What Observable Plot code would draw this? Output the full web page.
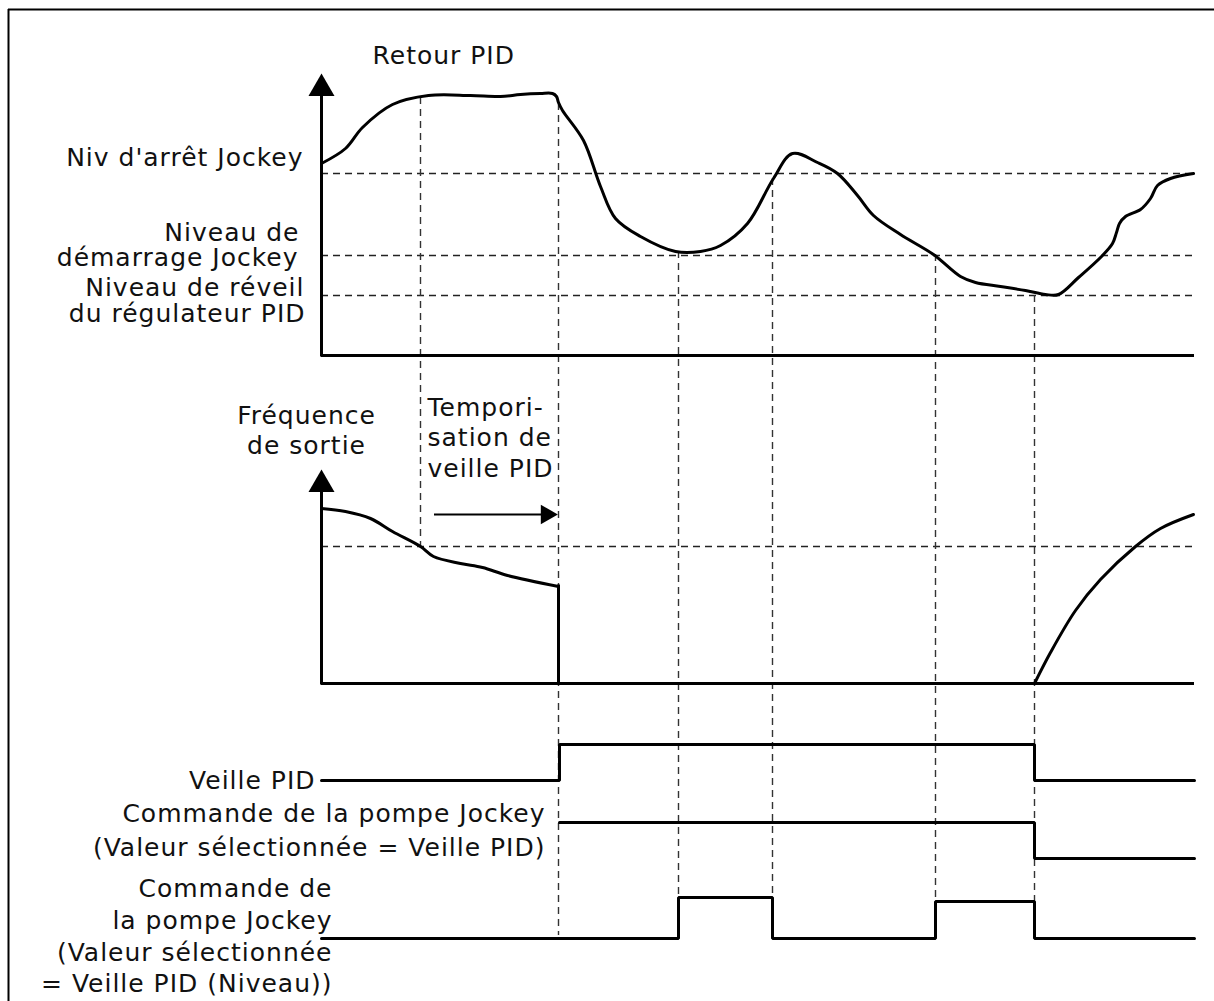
<!DOCTYPE html>
<html>
<head>
<meta charset="utf-8">
<script src="https://cdn.jsdelivr.net/npm/d3@7"></script>
<script src="https://cdn.jsdelivr.net/npm/@observablehq/plot@0.6"></script>
<style>
  html, body { margin: 0; padding: 0; background: #fff; }
  #chart svg { display: block; overflow: visible; }
  #chart svg text { letter-spacing: 1px; }
</style>
</head>
<body>
<div id="chart"></div>
<script>
// ---------- DATA (time t, signal level) ----------
// Retour PID (feedback) samples
const retourPID = [
  [321,163],[345,148],[362,127],[392,104],[428,95],[470,95],[500,96],[520,94],[540,93],
  [552,93],[556,96],[558,102],[562,110],[583,140],[600,186],[615,218],[640,236],[675,251],
  [700,251],[720,245],[747,223],[773,178],[792,153],[817,162],[837,173],[857,195],[873,215],
  [900,234],[933,254],[960,276],[975,282],[1000,286],[1025,290],[1045,294],[1058,294],
  [1078,277],[1100,257],[1112,243],[1116,232],[1119,223],[1125,216],[1140,209],[1150,198],
  [1157,185],[1170,178],[1193,173]
];
// Fréquence de sortie, before sleep and after wake-up
const frequence = [
  [321,508],[345,511],[370,518],[392,531],[420,546],[433,556],[460,563],[482,567],[507,575],[558,586]
];
const frequenceReprise = [
  [1034,683],[1050,652],[1075,610],[1100,579],[1135,546],[1160,528],[1193,514]
];
// Threshold levels of the feedback panel
const niveauxSeuils = [173, 255, 295];
const seuilFrequence = [546];
// Event times (vertical guides): [time, top level, bottom level]
const evenements = [
  [420, 97, 546], [558, 103, 935], [678, 251, 935], [772, 178, 935], [935, 254, 935], [1034, 295, 935]
];
// Digital signals: [time, level]
const veillePID = [[321,780],[559,780],[559,744],[1034,744],[1034,780],[1194,780]];
const commandeVeille = [[559,822],[1034,822],[1034,858],[1194,858]];
const commandeNiveau = [[321,938],[678,938],[678,897],[772,897],[772,938],[935,938],[935,901],[1034,901],[1034,938],[1194,938]];
// Texts
const titreRetour = ["Retour PID"];
const etiquettesNiveaux = ["Niv d'arrêt Jockey", "Niveau de", "démarrage Jockey", "Niveau de réveil", "du régulateur PID"];
const titreFrequence = ["Fréquence", "de sortie"];
const texteTempo = ["Tempori-", "sation de", "veille PID"];
const etiquettesSignaux = ["Veille PID", "Commande de la pompe Jockey", "(Valeur sélectionnée = Veille PID)"];
const etiquettesNiveau = ["Commande de", "la pompe Jockey", "(Valeur sélectionnée", "= Veille PID (Niveau))"];

// ---------- LAYOUT ----------
const W = 1214, H = 1001;
const t0 = 321, t1 = 1194;
const axeRetourBas = 355, axeRetourHaut = 95, axeFreqBas = 683, axeFreqHaut = 490;
const font = "DejaVu Sans";
const fs = 25;

const txt = (labels, xs, ys, anchor) => Plot.text(labels.map((s, i) => ({s, x: xs[i], y: ys[i]})), {
  x: "x", y: "y", text: "s", textAnchor: anchor, lineAnchor: "middle",
  fontSize: fs, fontFamily: font, fill: "#111"
});

const dash = {stroke: "#222", strokeWidth: 1.6, strokeDasharray: "7,5"};
const vdash = {stroke: "#333", strokeWidth: 1.4, strokeDasharray: "7,5"};
const solid = {stroke: "#000", strokeWidth: 3};

const chart = Plot.plot({
  width: W, height: H, margin: 0,
  x: {domain: [0, W], range: [0, W], axis: null},
  y: {domain: [0, H], range: [0, H], axis: null},
  style: {background: "#fff", fontFamily: font},
  marks: [
    // outer frame
    Plot.ruleY([9], {x1: 8, x2: W, stroke: "#000", strokeWidth: 2}),
    Plot.ruleX([8], {y1: 9, y2: H, stroke: "#000", strokeWidth: 2}),

    // threshold dashed lines
    Plot.ruleY(niveauxSeuils, {x1: t0, x2: t1, ...dash}),
    Plot.ruleY(seuilFrequence, {x1: t0, x2: t1, ...dash}),
    // event dashed lines
    Plot.ruleX(evenements, {x: d => d[0], y1: d => d[1], y2: d => d[2], ...vdash}),

    // axes of the feedback panel
    Plot.ruleX([t0], {y1: axeRetourBas + 1.5, y2: axeRetourHaut, ...solid}),
    Plot.ruleY([axeRetourBas], {x1: t0, x2: t1, ...solid}),
    Plot.dot([[t0, 88]], {x: d => d[0], y: d => d[1], symbol: "triangle", r: 9.65, fill: "#000", stroke: null}),
    // axes of the frequency panel
    Plot.ruleX([t0], {y1: axeFreqBas + 1.5, y2: axeFreqHaut, ...solid}),
    Plot.ruleY([axeFreqBas], {x1: t0, x2: t1, ...solid}),
    Plot.dot([[t0, 484]], {x: d => d[0], y: d => d[1], symbol: "triangle", r: 9.65, fill: "#000", stroke: null}),

    // curves
    Plot.line(retourPID, {x: d => d[0], y: d => d[1], curve: "catmull-rom", ...solid, strokeLinejoin: "round"}),
    Plot.line(frequence, {x: d => d[0], y: d => d[1], curve: "catmull-rom", ...solid}),
    Plot.ruleX([frequence[frequence.length - 1][0]], {y1: frequence[frequence.length - 1][1] - 1.5, y2: axeFreqBas, ...solid}),
    Plot.line(frequenceReprise, {x: d => d[0], y: d => d[1], curve: "catmull-rom", ...solid}),

    // temporisation arrow
    Plot.ruleY([514], {x1: 434, x2: 546, stroke: "#000", strokeWidth: 2}),
    Plot.dot([[546, 514]], {x: d => d[0], y: d => d[1], symbol: "triangle", rotate: 90, r: 7.3, fill: "#000", stroke: null}),

    // digital signals
    Plot.line(veillePID, {x: d => d[0], y: d => d[1], ...solid, strokeLinejoin: "miter"}),
    Plot.line(commandeVeille, {x: d => d[0], y: d => d[1], ...solid, strokeLinejoin: "miter"}),
    Plot.line(commandeNiveau, {x: d => d[0], y: d => d[1], ...solid, strokeLinejoin: "miter"}),

    // texts
    txt(titreRetour, [372], [55], "start"),
    txt(etiquettesNiveaux, [303, 299, 298, 304, 305], [157, 232, 257, 287, 313], "end"),
    txt(titreFrequence, [306, 306], [415, 445], "middle"),
    txt(texteTempo, [427, 427, 427], [407, 437, 468], "start"),
    txt(etiquettesSignaux, [315, 545, 545], [780, 813, 847], "end"),
    txt(etiquettesNiveau, [332, 332, 332, 332], [888, 920, 952, 983], "end")
  ]
});
document.getElementById("chart").appendChild(chart);
</script>
</body>
</html>
